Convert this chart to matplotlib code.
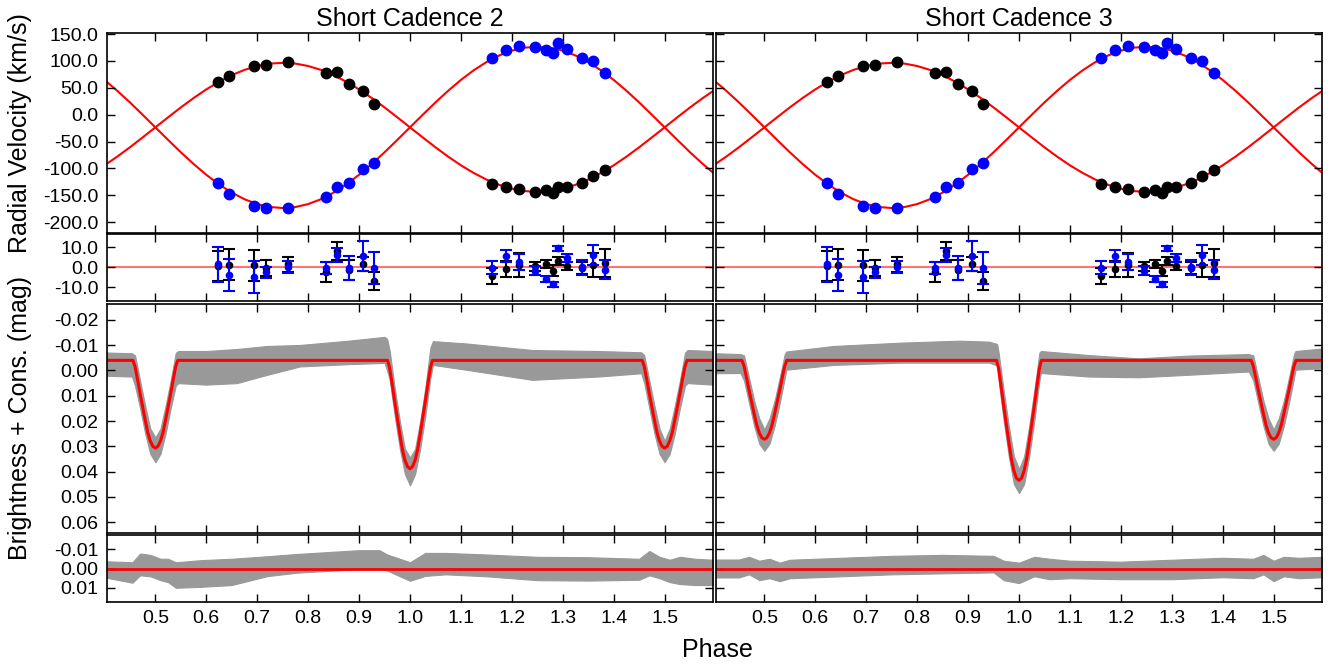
import matplotlib
matplotlib.use('Agg')
import matplotlib.pyplot as plt
from matplotlib.ticker import FormatStrFormatter, MultipleLocator

plt.rcParams['font.family'] = ['Liberation Sans', 'DejaVu Sans']

titles = ['Short Cadence 2', 'Short Cadence 3']

# radial velocity observations (black = primary, blue = secondary)
rv_phase = [0.622, 0.645, 0.693, 0.718, 0.761, 0.835, 0.857, 0.880, 0.908, 0.930,
            1.162, 1.188, 1.214, 1.246, 1.267, 1.280, 1.290, 1.309, 1.337, 1.360, 1.382]
rv1 = [60.5, 71.7, 89.7, 92.8, 97.8, 77.3, 79.1, 56.8, 43.8, 20.1,
       -129.4, -135.0, -138.7, -143.7, -140.6, -144.9, -135.0, -133.7, -127.0, -114.5, -102.8]
rv2 = [-127.0, -146.8, -169.8, -174.0, -173.5, -153.6, -134.4, -127.0, -100.2, -89.0,
       104.6, 120.7, 127.0, 125.1, 120.1, 114.5, 132.6, 121.4, 105.8, 99.6, 77.3]

# O-C of the rv fit
res1 = [0.5, 1.2, 0.8, -0.5, 1.3, -2.5, 8.0, -1.5, 1.5, -7.0,
        -4.3, -1.0, 1.0, 0.3, 1.5, -1.8, 3.2, 0.5, -0.5, 1.0, 1.8]
err1 = [7.5, 7.7, 7.7, 3.8, 3.7, 5.2, 4.3, 5.0, 3.7, 4.7,
        4.0, 4.1, 5.8, 2.2, 2.0, 2.8, 2.0, 2.0, 3.0, 5.8, 7.0]
res2 = [1.3, -4.0, -5.2, -2.7, 0.0, -0.3, 6.0, -0.5, 5.5, -0.7,
        -0.3, 5.5, 2.5, -1.8, -6.0, -8.7, 9.3, 4.3, -0.2, 6.0, -1.3]
err2 = [8.8, 7.8, 8.0, 2.7, 2.8, 3.0, 3.6, 6.0, 7.7, 8.0,
        3.2, 3.0, 3.8, 2.2, 1.5, 1.2, 1.2, 2.0, 3.9, 4.8, 4.8]

# rv model curves, read every 0.025 in phase
mod_phase = [0.400, 0.425, 0.450, 0.475, 0.500, 0.525, 0.550, 0.575, 0.600, 0.625,
             0.650, 0.675, 0.700, 0.725, 0.750, 0.775, 0.800, 0.825, 0.850, 0.875,
             0.900, 0.925, 0.950, 0.975, 1.000, 1.025, 1.050, 1.075, 1.100, 1.125,
             1.150, 1.175, 1.200, 1.225, 1.250, 1.275, 1.300, 1.325, 1.350, 1.375,
             1.400, 1.425, 1.450, 1.475, 1.500, 1.525, 1.550, 1.575, 1.600]
mod_rv1 = [-94.1, -78.0, -60.6, -42.2, -23.5, -4.8, 13.6, 31.0, 47.1, 61.3,
           73.6, 83.4, 90.6, 95.1, 96.5, 95.1, 90.6, 83.4, 73.6, 61.3,
           47.1, 31.0, 13.6, -4.8, -23.5, -42.2, -60.6, -78.0, -94.1, -108.3,
           -120.6, -130.4, -137.6, -142.1, -143.5, -142.1, -137.6, -130.4, -120.6, -108.3,
           -94.1, -78.0, -60.6, -42.2, -23.5, -4.8, 13.6, 31.0, 47.1]
mod_rv2 = [64.7, 44.6, 22.9, -0.1, -23.5, -46.9, -69.9, -91.6, -111.7, -129.6,
           -144.9, -157.2, -166.2, -171.7, -173.5, -171.7, -166.2, -157.2, -144.9, -129.6,
           -111.7, -91.6, -69.9, -46.9, -23.5, -0.1, 22.9, 44.6, 64.7, 82.6,
           97.9, 110.2, 119.2, 124.7, 126.5, 124.7, 119.2, 110.2, 97.9, 82.6,
           64.7, 44.6, 22.9, -0.1, -23.5, -46.9, -69.9, -91.6, -111.7]

# light curve model
lc_phase = [0.40,
            0.456, 0.46, 0.465, 0.47, 0.475, 0.48, 0.485, 0.49, 0.495, 0.50,
            0.505, 0.51, 0.515, 0.52, 0.525, 0.53, 0.535, 0.54, 0.544,
            0.956, 0.96, 0.965, 0.97, 0.975, 0.98, 0.985, 0.99, 0.995, 1.00,
            1.005, 1.01, 1.015, 1.02, 1.025, 1.03, 1.035, 1.04, 1.044,
            1.456, 1.46, 1.465, 1.47, 1.475, 1.48, 1.485, 1.49, 1.495, 1.50,
            1.505, 1.51, 1.515, 1.52, 1.525, 1.53, 1.535, 1.54, 1.544,
            1.60]
lc_model_sc2 = [-0.004,
                -0.004, -0.0016, 0.0036, 0.0092, 0.0144, 0.0196, 0.0245, 0.0279, 0.0300, 0.0307,
                0.0300, 0.0279, 0.0245, 0.0196, 0.0144, 0.0092, 0.0036, -0.0016, -0.004,
                -0.004, -0.0010, 0.0054, 0.0123, 0.0187, 0.0252, 0.0312, 0.0355, 0.0380, 0.0389,
                0.0380, 0.0355, 0.0312, 0.0252, 0.0187, 0.0123, 0.0054, -0.0010, -0.004,
                -0.004, -0.0016, 0.0036, 0.0092, 0.0144, 0.0196, 0.0245, 0.0279, 0.0300, 0.0307,
                0.0300, 0.0279, 0.0245, 0.0196, 0.0144, 0.0092, 0.0036, -0.0016, -0.004,
                -0.004]
lc_model_sc3 = [-0.004,
                -0.004, -0.0018, 0.0029, 0.0079, 0.0125, 0.0172, 0.0216, 0.0247, 0.0266, 0.0272,
                0.0266, 0.0247, 0.0216, 0.0172, 0.0125, 0.0079, 0.0029, -0.0018, -0.004,
                -0.004, -0.0007, 0.0065, 0.0141, 0.0212, 0.0283, 0.0350, 0.0397, 0.0426, 0.0435,
                0.0426, 0.0397, 0.0350, 0.0283, 0.0212, 0.0141, 0.0065, -0.0007, -0.004,
                -0.004, -0.0018, 0.0029, 0.0079, 0.0125, 0.0172, 0.0216, 0.0247, 0.0266, 0.0272,
                0.0266, 0.0247, 0.0216, 0.0172, 0.0125, 0.0079, 0.0029, -0.0018, -0.004,
                -0.004]

# grey photometry: edges of the point cloud
band_sc2_phase = [0.405, 0.454, 0.46, 0.47, 0.48, 0.49, 0.50, 0.51, 0.52, 0.53, 0.54, 0.545,
                  0.60, 0.66, 0.72, 0.784, 0.88, 0.95, 0.955,
                  0.96, 0.97, 0.98, 0.99, 1.00, 1.01, 1.02, 1.03, 1.04, 1.045,
                  1.11, 1.24, 1.37, 1.454,
                  1.46, 1.47, 1.48, 1.49, 1.50, 1.51, 1.52, 1.53, 1.54, 1.545, 1.595]
band_sc2_top = [-0.0071, -0.0068, -0.0060, 0.0040, 0.0140, 0.0230, 0.0265, 0.0230, 0.0140, 0.0040, -0.0070, -0.0077,
                -0.0077, -0.0085, -0.0097, -0.0101, -0.0118, -0.0133, -0.0125,
                -0.0080, 0.0070, 0.0200, 0.0310, 0.0344, 0.0310, 0.0200, 0.0070, -0.0090, -0.0116,
                -0.0107, -0.0081, -0.0077, -0.0072,
                -0.0060, 0.0040, 0.0140, 0.0230, 0.0278, 0.0230, 0.0140, 0.0040, -0.0070, -0.0081, -0.0077]
band_sc2_bot = [0.0021, 0.0024, 0.0060, 0.0150, 0.0250, 0.0330, 0.0363, 0.0330, 0.0250, 0.0150, 0.0060, 0.0050,
                0.0056, 0.0050, 0.0017, -0.0016, -0.0025, -0.0030, 0.0000,
                0.0035, 0.0180, 0.0310, 0.0410, 0.0455, 0.0410, 0.0310, 0.0180, 0.0030, -0.0022,
                -0.0003, 0.0037, 0.0024, 0.0011,
                0.0050, 0.0150, 0.0250, 0.0330, 0.0363, 0.0330, 0.0250, 0.0150, 0.0060, 0.0050, 0.0056]

band_sc3_phase = [0.405, 0.453, 0.46, 0.47, 0.48, 0.49, 0.50, 0.51, 0.52, 0.53, 0.54, 0.543,
                  0.636, 0.767, 0.884, 0.941, 0.957,
                  0.96, 0.97, 0.98, 0.99, 1.00, 1.01, 1.02, 1.03, 1.04, 1.043,
                  1.137, 1.235, 1.333, 1.451,
                  1.46, 1.47, 1.48, 1.49, 1.50, 1.51, 1.52, 1.53, 1.54, 1.543, 1.595]
band_sc3_top = [-0.0068, -0.0065, -0.0060, 0.0030, 0.0120, 0.0190, 0.0233, 0.0190, 0.0120, 0.0030, -0.0065, -0.0075,
                -0.0097, -0.0110, -0.0118, -0.0114, -0.0105,
                -0.0070, 0.0080, 0.0220, 0.0340, 0.0390, 0.0340, 0.0220, 0.0080, -0.0070, -0.0077,
                -0.0061, -0.0048, -0.0059, -0.0065,
                -0.0060, 0.0030, 0.0120, 0.0190, 0.0233, 0.0190, 0.0120, 0.0030, -0.0065, -0.0077, -0.0087]
band_sc3_bot = [0.0011, 0.0010, 0.0040, 0.0130, 0.0220, 0.0290, 0.0318, 0.0290, 0.0220, 0.0130, 0.0030, -0.0003,
                -0.0022, -0.0031, -0.0031, -0.0031, -0.0020,
                0.0040, 0.0200, 0.0340, 0.0450, 0.0485, 0.0450, 0.0340, 0.0200, 0.0040, 0.0010,
                0.0024, 0.0027, 0.0017, 0.0004,
                0.0040, 0.0130, 0.0220, 0.0290, 0.0318, 0.0290, 0.0220, 0.0130, 0.0030, -0.0003, -0.0009]

# photometric residuals, edges of the cloud
lres_sc2_phase = [0.405, 0.455, 0.47, 0.49, 0.51, 0.525, 0.54, 0.59, 0.65, 0.72, 0.78, 0.90, 0.94, 0.955,
                  0.98, 1.00, 1.03, 1.07, 1.15, 1.25, 1.35, 1.45, 1.47, 1.49, 1.51, 1.53, 1.56, 1.595]
lres_sc2_top = [-0.0037, -0.0032, -0.0077, -0.0070, -0.0050, -0.0050, -0.0032, -0.0043, -0.0050, -0.0063,
                -0.0075, -0.0094, -0.0094, -0.0072, -0.0050, -0.0032, -0.0080, -0.0080, -0.0072, -0.0060,
                -0.0058, -0.0050, -0.0090, -0.0060, -0.0045, -0.0060, -0.0050, -0.0045]
lres_sc2_bot = [0.0048, 0.0073, 0.0035, 0.0040, 0.0060, 0.0070, 0.0099, 0.0094, 0.0085, 0.0039,
                0.0021, 0.0003, 0.0002, 0.0010, 0.0040, 0.0063, 0.0038, 0.0030, 0.0040, 0.0060,
                0.0062, 0.0058, 0.0035, 0.0050, 0.0070, 0.0080, 0.0085, 0.0085]

lres_sc3_phase = [0.405, 0.45, 0.47, 0.49, 0.51, 0.53, 0.55, 0.65, 0.75, 0.85, 0.95, 0.97, 1.00,
                  1.03, 1.06, 1.10, 1.20, 1.30, 1.40, 1.46, 1.48, 1.50, 1.52, 1.55, 1.595]
lres_sc3_top = [-0.0046, -0.0046, -0.0060, -0.0040, -0.0050, -0.0030, -0.0045, -0.0055, -0.0065, -0.0070,
                -0.0065, -0.0040, -0.0030, -0.0060, -0.0050, -0.0040, -0.0035, -0.0045, -0.0055, -0.0050,
                -0.0070, -0.0040, -0.0060, -0.0055, -0.0060]
lres_sc3_bot = [0.0046, 0.0046, 0.0030, 0.0060, 0.0050, 0.0065, 0.0050, 0.0040, 0.0030, 0.0025,
                0.0020, 0.0060, 0.0075, 0.0040, 0.0055, 0.0050, 0.0055, 0.0055, 0.0045, 0.0050,
                0.0030, 0.0065, 0.0040, 0.0050, 0.0045]

lc_model = [lc_model_sc2, lc_model_sc3]
bands = [(band_sc2_phase, band_sc2_top, band_sc2_bot), (band_sc3_phase, band_sc3_top, band_sc3_bot)]
lres = [(lres_sc2_phase, lres_sc2_top, lres_sc2_bot), (lres_sc3_phase, lres_sc3_top, lres_sc3_bot)]

W, H = 1330, 668
fig = plt.figure(figsize=(W / 100, H / 100), dpi=100)

GREY = '#999999'
xlim = (0.405, 1.595)
col_left = [107, 716]
col_w = 606
rows = [(33, 233), (234, 301), (304, 533), (535, 602)]  # pixel top/bottom


def make_ax(x0, r):
    top, bot = r
    return fig.add_axes([x0 / W, 1 - bot / H, col_w / W, (bot - top) / H])


def style(ax, first, bottom):
    ax.set_xlim(*xlim)
    ax.xaxis.set_major_locator(MultipleLocator(0.1))
    ax.xaxis.set_major_formatter(FormatStrFormatter('%.1f'))
    ax.tick_params(direction='in', top=True, right=True, length=6, width=1.0,
                   labelsize=14, pad=6)
    if not bottom:
        ax.tick_params(labelbottom=False)
    if not first:
        ax.tick_params(labelleft=False)
    for s in ax.spines.values():
        s.set_linewidth(1.2)


for c in range(2):
    x0 = col_left[c]
    first = c == 0

    # radial velocities
    ax = make_ax(x0, rows[0])
    ax.plot(mod_phase, mod_rv1, color='red', lw=1.5, zorder=1)
    ax.plot(mod_phase, mod_rv2, color='red', lw=1.5, zorder=1)
    ax.plot(rv_phase, rv1, 'o', color='black', ms=7.5, zorder=3)
    ax.plot(rv_phase, rv2, 'o', color='blue', ms=7.5, zorder=3)
    ax.set_ylim(-220, 152)
    ax.set_yticks([150, 100, 50, 0, -50, -100, -150, -200])
    ax.yaxis.set_major_formatter(FormatStrFormatter('%.1f'))
    ax.set_title(titles[c], fontsize=18, pad=5)
    style(ax, first, False)

    # rv residuals
    ax = make_ax(x0, rows[1])
    ax.axhline(0, color='red', alpha=0.55, lw=1.5, zorder=1)
    ax.errorbar(rv_phase, res1, yerr=err1, fmt='o', color='black', ms=4.5,
                capsize=4, elinewidth=1.5, capthick=1.5, zorder=2)
    ax.errorbar(rv_phase, res2, yerr=err2, fmt='o', color='blue', ms=4.5,
                capsize=4, elinewidth=1.5, capthick=1.5, zorder=3)
    ax.set_ylim(-17, 16.5)
    ax.set_yticks([10, 0, -10])
    ax.yaxis.set_major_formatter(FormatStrFormatter('%.1f'))
    style(ax, first, False)

    # light curve
    ax = make_ax(x0, rows[2])
    ph, tp, bt = bands[c]
    ax.fill_between(ph, tp, bt, color=GREY, lw=0.8, edgecolor=GREY, zorder=1)
    ax.plot(lc_phase, lc_model[c], color='red', lw=2.2, zorder=2)
    ax.set_ylim(0.0643, -0.0263)
    ax.set_yticks([-0.02, -0.01, 0.0, 0.01, 0.02, 0.03, 0.04, 0.05, 0.06])
    ax.yaxis.set_major_formatter(FormatStrFormatter('%.2f'))
    style(ax, first, False)

    # light curve residuals
    ax = make_ax(x0, rows[3])
    ph, tp, bt = lres[c]
    ax.fill_between(ph, tp, bt, color=GREY, lw=0.8, edgecolor=GREY, zorder=1)
    ax.plot(list(xlim), [0.0, 0.0], color='red', lw=2.0, zorder=2)
    ax.set_ylim(0.0172, -0.0172)
    ax.set_yticks([-0.01, 0.0, 0.01])
    ax.yaxis.set_major_formatter(FormatStrFormatter('%.2f'))
    style(ax, first, True)

fig.text(20 / W, 1 - 133 / H, 'Radial Velocity (km/s)', rotation=90, fontsize=18,
         ha='center', va='center')
fig.text(20 / W, 1 - 418 / H, 'Brightness + Cons. (mag)', rotation=90, fontsize=18,
         ha='center', va='center')
fig.text(717 / W, 1 - 650 / H, 'Phase', fontsize=18, ha='center', va='center')

fig.savefig('out.png', dpi=100)
